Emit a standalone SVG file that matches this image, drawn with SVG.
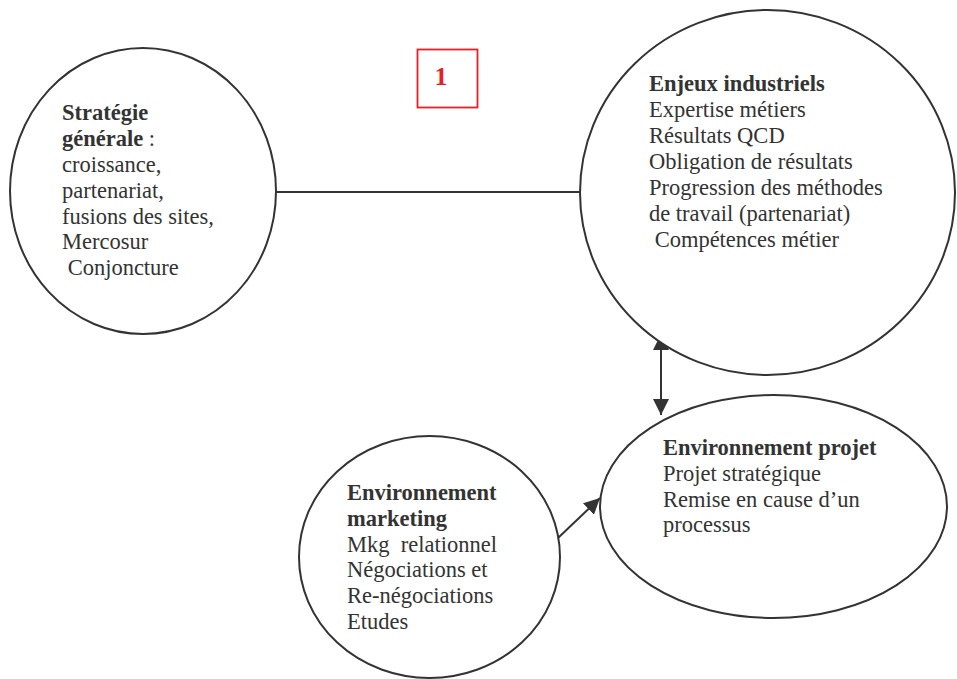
<svg xmlns="http://www.w3.org/2000/svg" width="957" height="679" viewBox="0 0 957 679">
<style>
.node{fill:#fff;stroke:#333;stroke-width:2}
.t{font-family:"Liberation Serif","Times New Roman",serif;font-size:22.5px;fill:#333;white-space:pre}
.b{font-weight:bold}
.conn{stroke:#333;stroke-width:2;fill:none}
</style>
<defs>
<marker id="ah" markerUnits="userSpaceOnUse" markerWidth="17" markerHeight="17" refX="16" refY="8" orient="auto-start-reverse" viewBox="0 0 17 16">
<path d="M0,0 L16,8 L0,16 z" fill="#333"/>
</marker>
</defs>
<g id="connectors">
<line class="conn" x1="276" y1="192" x2="580" y2="192"/>
<line class="conn" x1="661" y1="334" x2="661" y2="415" marker-start="url(#ah)" marker-end="url(#ah)"/>
<line class="conn" x1="558" y1="538" x2="600" y2="498" marker-end="url(#ah)"/>
</g>
<g id="strategie">
<ellipse class="node" cx="143" cy="191" rx="133" ry="143"/>
<text class="t"><tspan class="b" x="62" y="120">Stratégie</tspan><tspan class="b" x="62" y="146">générale</tspan><tspan> :</tspan><tspan x="62" y="172">croissance,</tspan><tspan x="62" y="197.5">partenariat,</tspan><tspan x="62" y="223.5">fusions des sites,</tspan><tspan x="62" y="249">Mercosur</tspan><tspan x="62" y="275"> Conjoncture</tspan></text>
</g>
<g id="enjeux">
<ellipse class="node" cx="767.5" cy="192.5" rx="187.5" ry="182.5"/>
<text class="t"><tspan class="b" x="649" y="91">Enjeux industriels</tspan><tspan x="649" y="117">Expertise métiers</tspan><tspan x="649" y="143">Résultats QCD</tspan><tspan x="649" y="169">Obligation de résultats</tspan><tspan x="649" y="195">Progression des méthodes</tspan><tspan x="649" y="221">de travail (partenariat)</tspan><tspan x="649" y="247"> Compétences métier</tspan></text>
</g>
<g id="marketing">
<ellipse class="node" cx="429.5" cy="557" rx="130.5" ry="121"/>
<text class="t"><tspan class="b" x="347" y="500">Environnement</tspan><tspan class="b" x="347" y="526">marketing</tspan><tspan x="347" y="551.5">Mkg  relationnel</tspan><tspan x="347" y="577">Négociations et</tspan><tspan x="347" y="603">Re-négociations</tspan><tspan x="347" y="628.5">Etudes</tspan></text>
</g>
<g id="projet">
<ellipse class="node" cx="773.5" cy="506.5" rx="173.5" ry="111.5"/>
<text class="t"><tspan class="b" x="663" y="455">Environnement projet</tspan><tspan x="663" y="481">Projet stratégique</tspan><tspan x="663" y="506.5">Remise en cause d’un</tspan><tspan x="663" y="532">processus</tspan></text>
</g>
<g id="label1">
<rect x="417.5" y="49.5" width="60" height="58" fill="none" stroke="#ee1c25" stroke-width="1.8"/>
<text x="441" y="85" text-anchor="middle" font-family="Liberation Serif, serif" font-size="26" font-weight="bold" fill="#ee1c25">1</text>
</g>
</svg>
